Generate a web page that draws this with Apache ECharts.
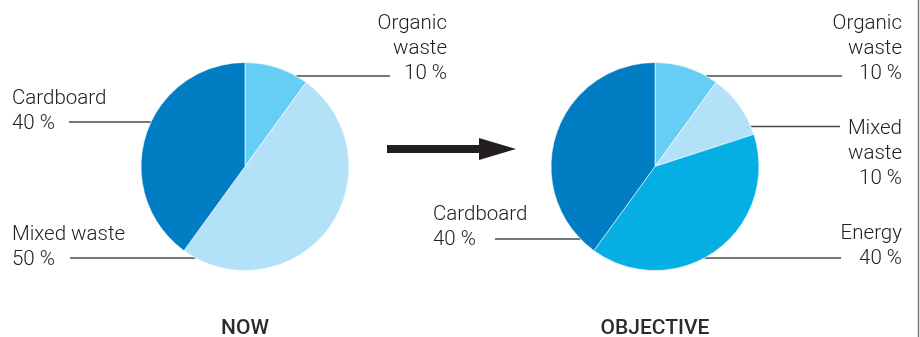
<!DOCTYPE html>
<html>
<head>
<meta charset="utf-8">
<script src="https://cdn.jsdelivr.net/npm/echarts@6/dist/echarts.min.js"></script>
<style>
  html, body { margin: 0; padding: 0; background: #fff; }
  #chart { width: 920px; height: 337px; }
</style>
</head>
<body>
<div id="chart"></div>
<script>
// Waste shares today and target
const nowCategories = ['Organic waste', 'Mixed waste', 'Cardboard'];
const nowLabels = ['Organic\nwaste', 'Mixed waste', 'Cardboard'];
const nowValues = [10, 50, 40];

const objCategories = ['Organic waste', 'Mixed waste', 'Energy', 'Cardboard'];
const objLabels = ['Organic\nwaste', 'Mixed\nwaste', 'Energy', 'Cardboard'];
const objValues = [10, 10, 40, 40];

const panelTitles = ['NOW', 'OBJECTIVE'];

const sliceColors = {
  'Organic waste': '#66cef5',
  'Mixed waste': '#b3e2f8',
  'Cardboard': '#007dc3',
  'Energy': '#05aee3'
};

// Pie geometry (pixels)
const R = 104;
const pies = [
  { cx: 245, cy: 166.5 },
  { cx: 655, cy: 166.5 }
];

// Label placement per slice: text anchor, alignment, leader-line row and outer end
const labelPlacement = [
  [
    { tx: 447, ty: 49, align: 'right', ly: 76, lx: 390, side: 1 },
    { tx: 12, ty: 247.5, align: 'left', ly: 258, lx: 70, side: -1 },
    { tx: 12, ty: 111.5, align: 'left', ly: 122, lx: 69, side: -1 }
  ],
  [
    { tx: 902, ty: 49, align: 'right', ly: 76, lx: 842, side: 1 },
    { tx: 902, ty: 154, align: 'right', ly: 126.5, lx: 840, side: 1 },
    { tx: 902, ty: 246, align: 'right', ly: 258, lx: 841, side: 1 },
    { tx: 433, ty: 227.5, align: 'left', ly: 239, lx: 495, side: -1 }
  ]
];

function edgeX(p, y, side) {
  const dy = y - p.cy;
  return p.cx + side * Math.sqrt(Math.max(0, R * R - dy * dy));
}

function buildData(cats, vals) {
  return cats.map((c, i) => ({
    name: c,
    value: vals[i],
    itemStyle: { color: sliceColors[c] }
  }));
}

function pieSeries(idx, cats, labels, vals) {
  return {
    type: 'pie',
    center: [pies[idx].cx, pies[idx].cy],
    radius: R,
    startAngle: 90,
    clockwise: true,
    silent: true,
    avoidLabelOverlap: false,
    animation: false,
    itemStyle: { borderColor: '#ffffff', borderWidth: 0.6 },
    label: {
      show: true,
      position: 'outside',
      formatter: (p) => labels[p.dataIndex] + '\n' + p.value + ' %',
      fontFamily: 'Roboto, "Liberation Sans", sans-serif',
      fontWeight: 300,
      fontSize: 20.5,
      lineHeight: 25,
      color: '#222222'
    },
    labelLine: {
      show: true,
      lineStyle: { color: '#4a4a4a', width: 1.3 }
    },
    labelLayout: (params) => {
      const pl = labelPlacement[idx][params.dataIndex];
      const ex = edgeX(pies[idx], pl.ly, pl.side);
      return {
        x: pl.tx,
        y: pl.ty,
        align: pl.align,
        verticalAlign: 'middle',
        labelLinePoints: [[ex, pl.ly], [ex, pl.ly], [pl.lx, pl.ly]]
      };
    },
    data: buildData(cats, vals)
  };
}

const chart = echarts.init(document.getElementById('chart'), null, { renderer: 'canvas' });

chart.setOption({
  backgroundColor: '#ffffff',
  animation: false,
  series: [
    pieSeries(0, nowCategories, nowLabels, nowValues),
    pieSeries(1, objCategories, objLabels, objValues)
  ],
  graphic: [
    // arrow between the two pies
    { type: 'rect', shape: { x: 387, y: 145, width: 95, height: 8 }, style: { fill: '#231f20' } },
    { type: 'polygon', shape: { points: [[479, 138], [516, 149], [479, 160]] }, style: { fill: '#231f20' } },
    // panel titles
    {
      type: 'text', x: pies[0].cx, y: 329,
      style: {
        text: panelTitles[0], align: 'center', verticalAlign: 'middle',
        fontFamily: 'Roboto, "Liberation Sans", sans-serif', fontWeight: 500,
        fontSize: 21, fill: '#2b2b2b'
      }
    },
    {
      type: 'text', x: pies[1].cx, y: 329,
      style: {
        text: panelTitles[1], align: 'center', verticalAlign: 'middle',
        fontFamily: 'Roboto, "Liberation Sans", sans-serif', fontWeight: 500,
        fontSize: 21, fill: '#2b2b2b'
      }
    },
    // right border rule
    { type: 'line', shape: { x1: 918.5, y1: 0, x2: 918.5, y2: 337 }, style: { stroke: '#777777', lineWidth: 1.5 } }
  ]
});
</script>
</body>
</html>
